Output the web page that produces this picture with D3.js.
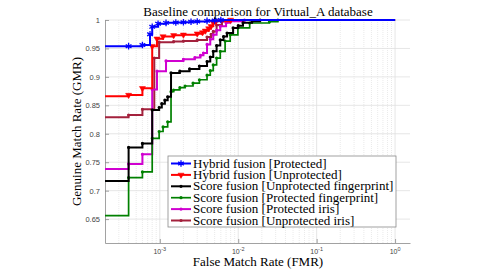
<!DOCTYPE html>
<html>
<head>
<meta charset="utf-8">
<script src="https://cdn.jsdelivr.net/npm/d3@7"></script>
<style>
  body { margin: 0; background: #fff; }
  svg { display: block; }
</style>
</head>
<body>
<div id="chart"></div>
<script>
// ROC step curves, [FMR, GMR] pairs
const hybridProtected = [
  [2e-4, 0.954], [4e-4, 0.954], [6e-4, 0.956], [7.5e-4, 0.975], [8e-4, 0.988],
  [9.5e-4, 0.9935], [1.2e-3, 0.995], [1.6e-3, 0.9955], [2e-3, 0.996], [2.5e-3, 0.997],
  [3e-3, 0.9975], [4e-3, 0.9985], [5e-3, 0.999], [6e-3, 1.0], [1, 1.0]
];
const hybridUnprotected = [
  [2e-4, 0.866], [4e-4, 0.868], [6e-4, 0.880], [8e-4, 0.954], [9.2e-4, 0.967],
  [1.1e-3, 0.971], [1.5e-3, 0.973], [2e-3, 0.974], [3e-3, 0.976], [3.5e-3, 0.978],
  [3.8e-3, 0.981], [4.2e-3, 0.985], [4.5e-3, 0.989], [4.8e-3, 0.995], [5.2e-3, 0.998],
  [8e-3, 1.0], [1, 1.0]
];
const scoreUnprotFinger = [
  [2e-4, 0.717], [4e-4, 0.776], [6e-4, 0.783], [8e-4, 0.842], [9.8e-4, 0.846],
  [1.06e-3, 0.853], [1.16e-3, 0.859], [1.26e-3, 0.865], [1.39e-3, 0.907], [1.8e-3, 0.910],
  [2.4e-3, 0.914], [3.2e-3, 0.919], [4e-3, 0.927], [4.4e-3, 0.935], [4.8e-3, 0.945],
  [5.3e-3, 0.955], [5.9e-3, 0.965], [6.5e-3, 0.971], [7.2e-3, 0.977], [8.6e-3, 0.986],
  [1e-2, 0.990], [1.15e-2, 0.995], [1.5e-2, 0.998], [1.9e-2, 1.0], [1, 1.0]
];
const scoreProtFinger = [
  [2e-4, 0.656], [4e-4, 0.723], [6e-4, 0.733], [8e-4, 0.792], [9.8e-4, 0.804],
  [1.1e-3, 0.812], [1.26e-3, 0.821], [1.39e-3, 0.874], [1.5e-3, 0.877], [1.8e-3, 0.881],
  [2.1e-3, 0.884], [2.65e-3, 0.889], [3.2e-3, 0.895], [4e-3, 0.903], [4.4e-3, 0.911],
  [4.8e-3, 0.921], [5.3e-3, 0.933], [5.9e-3, 0.945], [6.8e-3, 0.963], [7.9e-3, 0.974],
  [9.9e-3, 0.986], [1.4e-2, 0.9947], [2.5e-2, 0.997], [3.2e-2, 1.0], [1, 1.0]
];
const scoreProtIris = [
  [2e-4, 0.738], [4e-4, 0.747], [6e-4, 0.764], [8e-4, 0.878], [9.2e-4, 0.910],
  [1.2e-3, 0.928], [2e-3, 0.931], [2.8e-3, 0.934], [3.3e-3, 0.938], [3.6e-3, 0.942],
  [4e-3, 0.957], [4.4e-3, 0.966], [4.8e-3, 0.974], [5.3e-3, 0.982], [5.9e-3, 0.989],
  [7e-3, 0.995], [7.9e-3, 0.998], [1.2e-2, 1.0], [1, 1.0]
];
const scoreUnprotIris = [
  [2e-4, 0.829], [4e-4, 0.833], [6e-4, 0.843], [8.5e-4, 0.933], [9.8e-4, 0.961],
  [1.5e-3, 0.962], [2e-3, 0.963], [3e-3, 0.965], [4e-3, 0.970], [4.5e-3, 0.975],
  [4.8e-3, 0.980], [5.3e-3, 0.991], [6.2e-3, 0.998], [8e-3, 1.0], [1, 1.0]
];

const seriesNames = [
  'Hybrid fusion [Protected]',
  'Hybrid fusion [Unprotected]',
  'Score fusion [Unprotected fingerprint]',
  'Score fusion [Protected fingerprint]',
  'Score fusion [Protected iris]',
  'Score fusion [Unprotected iris]'
];
const seriesData = [hybridProtected, hybridUnprotected, scoreUnprotFinger,
  scoreProtFinger, scoreProtIris, scoreUnprotIris];
const yTicks = [0.65, 0.7, 0.75, 0.8, 0.85, 0.9, 0.95, 1];
const xTicks = [1e-3, 1e-2, 1e-1, 1];
const expLabels = ['-3', '-2', '-1', '0'];

// styles per series
const colors = ['#0000ff', '#ff0000', '#000000', '#008000', '#d000d0', '#a3213c'];
const markers = ['star', 'tri', 'dot', 'dot', 'dot', 'dot'];
const widths = [2, 2, 2, 1.7, 2, 2];

const width = 498, height = 273;
const margin = { top: 20, right: 88, bottom: 30, left: 105 };
const x0 = margin.left, x1 = width - margin.right;
const y0 = height - margin.bottom, y1 = margin.top;

const svg = d3.select('#chart').append('svg')
  .attr('width', width)
  .attr('height', height);

const x = d3.scaleLog().domain([2e-4, 1.55]).range([x0, x1]);
const y = d3.scaleLinear().domain([0.608, 1]).range([y0, y1]);

// grid: dotted minor verticals, solid majors
const minorX = [];
[1e-4, 1e-3, 1e-2, 1e-1, 1].forEach(dec => {
  for (let k = 2; k <= 9; k++) {
    const v = dec * k;
    if (v > 2e-4 && v < 1.55) minorX.push(v);
  }
});
svg.append('g').selectAll('line')
  .data(minorX)
  .enter().append('line')
  .attr('x1', d => x(d)).attr('x2', d => x(d))
  .attr('y1', y0).attr('y2', y1)
  .style('stroke', '#dcdcdc')
  .style('stroke-width', 0.6)
  .style('stroke-dasharray', '1,1');

svg.append('g').selectAll('line')
  .data(xTicks)
  .enter().append('line')
  .attr('x1', d => x(d)).attr('x2', d => x(d))
  .attr('y1', y0).attr('y2', y1)
  .style('stroke', '#e0e0e0')
  .style('stroke-width', 0.8);

svg.append('g').selectAll('line')
  .data(yTicks)
  .enter().append('line')
  .attr('x1', x0).attr('x2', x1)
  .attr('y1', d => y(d)).attr('y2', d => y(d))
  .style('stroke', '#e0e0e0')
  .style('stroke-width', 0.8);

// axes with inward ticks
const yAxis = svg.append('g')
  .attr('transform', `translate(${x0},0)`)
  .call(d3.axisLeft(y).tickValues(yTicks).tickSizeInner(-4).tickSizeOuter(0).tickPadding(5)
    .tickFormat(d => String(+d.toFixed(2))));
const xAxis = svg.append('g')
  .attr('transform', `translate(0,${y0})`)
  .call(d3.axisBottom(x).tickValues(xTicks).tickSizeInner(-4).tickSizeOuter(0)
    .tickFormat(() => ''));

[yAxis, xAxis].forEach(a => {
  a.select('.domain').style('stroke', '#8a8a8a').style('stroke-width', 0.8);
  a.selectAll('.tick line').style('stroke', '#8a8a8a').style('stroke-width', 0.8);
  a.selectAll('.tick text')
    .style('font-family', '"Liberation Sans", Arial, sans-serif')
    .style('font-size', '7.5px')
    .style('fill', '#444');
});

// 10^n labels as real text with superscript
svg.append('g').selectAll('text')
  .data(xTicks)
  .enter().append('text')
  .attr('x', d => x(d))
  .attr('y', y0 + 11)
  .attr('text-anchor', 'middle')
  .style('font-family', '"Liberation Sans", Arial, sans-serif')
  .style('font-size', '7px')
  .style('fill', '#444')
  .each(function (d, i) {
    const t = d3.select(this);
    t.append('tspan').text('10');
    t.append('tspan').attr('dy', -3).style('font-size', '5.5px').text(expLabels[i]);
  });

// curves
const line = d3.line()
  .x(d => x(d[0]))
  .y(d => y(d[1]))
  .curve(d3.curveStepAfter);

function drawMarker(sel, type, color) {
  if (type === 'star') {
    sel.attr('d', d3.symbol(d3.symbolAsterisk, 30))
      .style('fill', 'none').style('stroke', color).style('stroke-width', 1.3);
  } else if (type === 'tri') {
    sel.attr('d', d3.symbol(d3.symbolTriangle, 16))
      .attr('transform', function () { return d3.select(this).attr('transform') + ' rotate(180)'; })
      .style('fill', color).style('stroke', color).style('stroke-width', 0.5);
  } else {
    sel.attr('d', d3.symbol(d3.symbolCircle, 8))
      .style('fill', color).style('stroke', 'none');
  }
}

// draw so that the first series ends up on top
[5, 4, 3, 2, 1, 0].forEach(i => {
  const g = svg.append('g');
  g.append('path')
    .datum(seriesData[i])
    .attr('d', line)
    .style('fill', 'none')
    .style('stroke', colors[i])
    .style('stroke-width', widths[i]);

  g.selectAll('.mk')
    .data(seriesData[i].slice(1, -1))
    .enter().append('path')
    .attr('transform', d => `translate(${x(d[0])},${y(d[1])})`)
    .call(drawMarker, markers[i], colors[i]);
});

// title and axis labels
const serif = '"Liberation Serif", "Times New Roman", serif';
svg.append('text')
  .attr('x', 258).attr('y', 16)
  .attr('text-anchor', 'middle')
  .style('font-family', serif).style('font-size', '13px')
  .text('Baseline comparison for Virtual_A database');

svg.append('text')
  .attr('x', 258).attr('y', 266)
  .attr('text-anchor', 'middle')
  .style('font-family', serif).style('font-size', '13px')
  .text('False Match Rate (FMR)');

svg.append('text')
  .attr('transform', `translate(81,${(y0 + y1) / 2}) rotate(-90)`)
  .attr('text-anchor', 'middle')
  .style('font-family', serif).style('font-size', '13px')
  .text('Genuine Match Rate (GMR)');

// legend
const lg = svg.append('g').attr('transform', 'translate(168,156)');
lg.append('rect')
  .attr('width', 228).attr('height', 71)
  .style('fill', '#fff')
  .style('stroke', '#8a8a8a')
  .style('stroke-width', 0.8);

seriesNames.forEach((name, i) => {
  const ry = 7.5 + i * 11.4;
  lg.append('line')
    .attr('x1', 3).attr('x2', 23)
    .attr('y1', ry).attr('y2', ry)
    .style('stroke', colors[i])
    .style('stroke-width', widths[i]);
  lg.append('path')
    .attr('transform', `translate(13,${ry})`)
    .call(drawMarker, markers[i], colors[i]);
  lg.append('text')
    .attr('x', 25).attr('y', ry + 4)
    .style('font-family', serif).style('font-size', '13px')
    .text(name);
});
</script>
</body>
</html>
